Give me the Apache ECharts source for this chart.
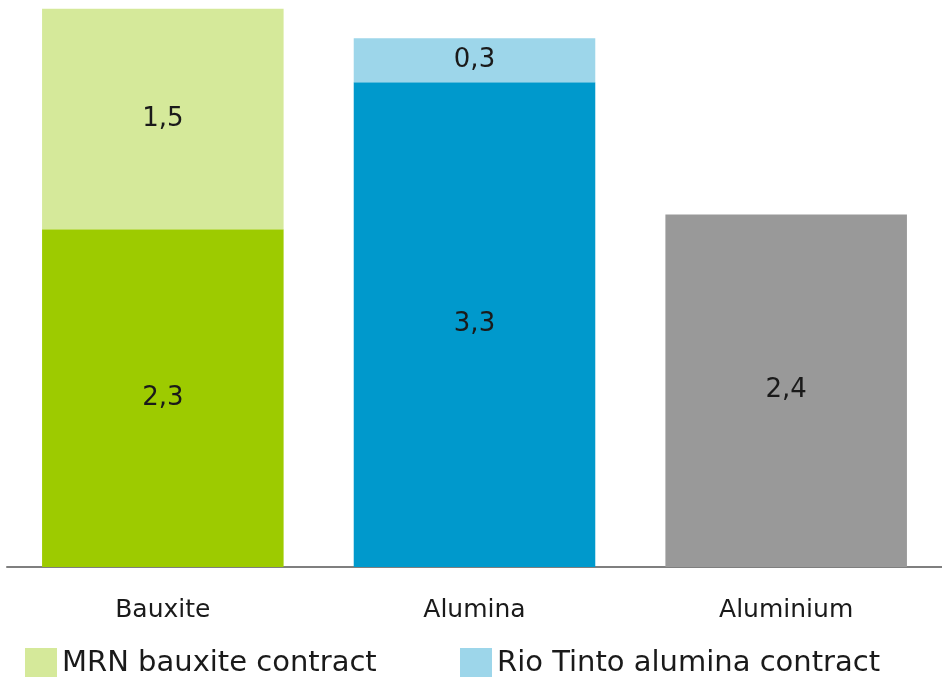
<!DOCTYPE html>
<html>
<head>
<meta charset="utf-8">
<script src="https://cdn.jsdelivr.net/npm/echarts@6/dist/echarts.min.js"></script>
<style>
  html, body { margin: 0; padding: 0; background: #fff; }
  #chart { width: 942px; height: 677px; }
</style>
</head>
<body>
<div id="chart"></div>
<script>
// Volumes by stage of the aluminium chain
const categories = ['Bauxite', 'Alumina', 'Aluminium'];
const baseValues = [2.3, 3.3, 2.4];
const mrnValues = [1.5, null, null];
const rioValues = [null, 0.3, null];
const baseColors = ['#9dcb00', '#0099cc', '#999999'];
const legendNames = ['MRN bauxite contract', 'Rio Tinto alumina contract'];

const FONT = 'DejaVu Sans';
const fmt = p => String(p.value).replace('.', ',');

const labelStyle = {
  show: true,
  position: 'inside',
  color: '#1a1a1a',
  fontFamily: FONT,
  fontSize: 26,
  formatter: fmt
};

const legendText = { fontFamily: FONT, fontSize: 29, color: '#1a1a1a' };

const chart = echarts.init(document.getElementById('chart'), null, { renderer: 'canvas' });
chart.setOption({
  animation: false,
  backgroundColor: '#ffffff',
  grid: { left: 7, right: -3, top: 0, bottom: 110, containLabel: false },
  legend: [
    {
      data: [legendNames[0]],
      left: 20, top: 643,
      itemWidth: 32, itemHeight: 30, itemGap: 0,
      icon: 'rect',
      textStyle: legendText
    },
    {
      data: [legendNames[1]],
      left: 455, top: 643,
      itemWidth: 32, itemHeight: 30, itemGap: 0,
      icon: 'rect',
      textStyle: legendText
    }
  ],
  xAxis: {
    type: 'category',
    data: categories,
    axisLine: { show: true, lineStyle: { color: '#7f7f7f', width: 2 } },
    axisTick: { show: false },
    axisLabel: { color: '#1a1a1a', fontFamily: FONT, fontSize: 25, margin: 31 }
  },
  yAxis: {
    type: 'value',
    min: 0,
    max: 3.86,
    show: false,
    splitLine: { show: false }
  },
  series: [
    {
      name: 'base',
      type: 'bar',
      stack: 'total',
      barWidth: '77.5%',
      data: baseValues.map((v, i) => ({ value: v, itemStyle: { color: baseColors[i] } })),
      label: labelStyle
    },
    {
      name: legendNames[0],
      type: 'bar',
      stack: 'total',
      itemStyle: { color: '#d5e99a' },
      data: mrnValues,
      label: labelStyle
    },
    {
      name: legendNames[1],
      type: 'bar',
      stack: 'total',
      itemStyle: { color: '#9dd6ea' },
      data: rioValues,
      label: labelStyle
    }
  ]
});
</script>
</body>
</html>
